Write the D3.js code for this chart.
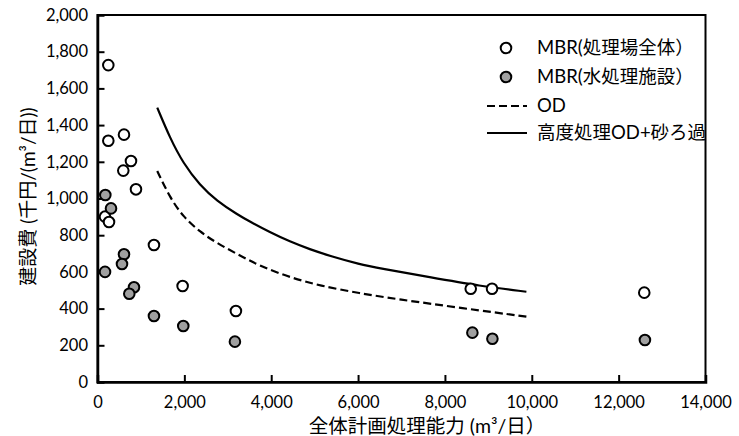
<!DOCTYPE html>
<html>
<head>
<meta charset="utf-8">
<script src="https://cdn.jsdelivr.net/npm/d3@7"></script>
<style>
  body { margin: 0; background: #fff; }
  text { font-family: Lato, "Noto Sans CJK JP", sans-serif; fill: #000; }
</style>
</head>
<body>
<div id="container"></div>
<script>
// MBR(処理場全体) - capacity, cost
let wholeX = [249, 249, 610, 771, 594, 886, 173, 265, 1300, 1960, 3187, 8594, 9085, 12590];
let wholeY = [1727, 1315, 1348, 1204, 1152, 1050, 901, 872, 747, 523, 387, 508, 508, 487];

// MBR(水処理施設)
let waterX = [180, 311, 173, 610, 564, 840, 732, 1300, 1975, 3164, 8632, 9093, 12605];
let waterY = [1019, 946, 600, 696, 643, 516, 481, 360, 305, 220, 269, 236, 229];

// OD curve
let odX = [1376, 1668, 1974, 2359, 2743, 3240, 3739, 4430, 5120, 6040, 6884, 8417, 9876];
let odY = [1150, 1005, 900, 818, 758, 694, 632, 570, 525, 483, 452, 402, 356];

// 高度処理OD+砂ろ過 curve
let advX = [1376, 1668, 1974, 2359, 2743, 3240, 3509, 3969, 4430, 4890, 5350, 6040, 6500, 7651, 8801, 9876];
let advY = [1495, 1330, 1192, 1072, 988, 910, 874, 816, 765, 723, 687, 641, 620, 571, 523, 492];

let xTicks = [0, 2000, 4000, 6000, 8000, 10000, 12000, 14000];
let yTicks = [0, 200, 400, 600, 800, 1000, 1200, 1400, 1600, 1800, 2000];

let legendLabels = ["MBR(処理場全体）", "MBR(水処理施設）", "OD", "高度処理OD+砂ろ過"];

let w = 739, h = 436;
let mLeft = 97.5, mRight = 705.5, mTop = 15, mBottom = 382;

let viz = d3.select("#container")
  .append("svg")
    .attr("width", w)
    .attr("height", h)
;

let x = d3.scaleLinear().domain([0, 14000]).range([mLeft, mRight]);
let y = d3.scaleLinear().domain([0, 2000]).range([mBottom, mTop]);

let fmt = d3.format(",");

// box
viz.append("rect")
  .attr("x", mLeft).attr("y", mTop)
  .attr("width", mRight - mLeft).attr("height", mBottom - mTop)
  .attr("fill", "none").attr("stroke", "#000").attr("stroke-width", 2);

// axes
let yAxis = viz.append("g")
  .attr("transform", "translate(" + mLeft + ",0)")
  .call(d3.axisLeft(y).tickValues(yTicks).tickFormat(fmt).tickSize(-7).tickPadding(9.5));
let xAxis = viz.append("g")
  .attr("transform", "translate(0," + mBottom + ")")
  .call(d3.axisBottom(x).tickValues(xTicks).tickFormat(fmt).tickSize(-7).tickPadding(14.5));

[yAxis, xAxis].forEach(function(a){
  a.select(".domain").attr("stroke-width", 2.5);
  a.selectAll(".tick line").attr("stroke-width", 2);
  a.selectAll(".tick text").attr("font-size", 16.5).attr("font-family", "Lato, sans-serif").attr("fill", "#000");
});
yAxis.selectAll(".tick").filter(d => d === 0 || d === 2000).select("line").remove();
xAxis.selectAll(".tick").filter(d => d === 0 || d === 14000).select("line").remove();

// axis titles
viz.append("text")
  .attr("transform", "translate(35,196.5) rotate(-90)")
  .attr("text-anchor", "middle")
  .attr("font-size", 19)
  .text("建設費 (千円/(m³/日))");

viz.append("text")
  .attr("x", 427).attr("y", 433)
  .attr("text-anchor", "middle")
  .attr("font-size", 19.5)
  .text("全体計画処理能力 (m³/日）");

// curves
let line = d3.line()
  .x(d => x(d[0]))
  .y(d => y(d[1]))
  .curve(d3.curveBasis);

viz.append("path")
  .datum(d3.zip(odX, odY))
  .attr("d", line)
  .attr("fill", "none").attr("stroke", "#000").attr("stroke-width", 2.2)
  .attr("stroke-dasharray", "8,4");

viz.append("path")
  .datum(d3.zip(advX, advY))
  .attr("d", line)
  .attr("fill", "none").attr("stroke", "#000").attr("stroke-width", 2.2);

// points
viz.append("g").selectAll("circle")
  .data(d3.zip(wholeX, wholeY))
  .join("circle")
    .attr("cx", d => x(d[0]))
    .attr("cy", d => y(d[1]))
    .attr("r", 5.3)
    .attr("fill", "#fff").attr("stroke", "#000").attr("stroke-width", 2);

viz.append("g").selectAll("circle")
  .data(d3.zip(waterX, waterY))
  .join("circle")
    .attr("cx", d => x(d[0]))
    .attr("cy", d => y(d[1]))
    .attr("r", 5.3)
    .attr("fill", "#a0a0a0").attr("stroke", "#000").attr("stroke-width", 2);

// legend
let legend = viz.append("g").attr("class", "legend");
let rowY = [48, 77, 106, 133];
legend.append("circle").attr("cx", 506).attr("cy", rowY[0]).attr("r", 5.3)
  .attr("fill", "#fff").attr("stroke", "#000").attr("stroke-width", 2);
legend.append("circle").attr("cx", 506).attr("cy", rowY[1]).attr("r", 5.3)
  .attr("fill", "#a0a0a0").attr("stroke", "#000").attr("stroke-width", 2);
legend.append("line").attr("x1", 487).attr("x2", 527).attr("y1", rowY[2]).attr("y2", rowY[2])
  .attr("stroke", "#000").attr("stroke-width", 2.2).attr("stroke-dasharray", "8,4");
legend.append("line").attr("x1", 487).attr("x2", 527).attr("y1", rowY[3]).attr("y2", rowY[3])
  .attr("stroke", "#000").attr("stroke-width", 2.2);
legend.selectAll("text")
  .data(legendLabels)
  .join("text")
    .attr("x", 537)
    .attr("y", (d, i) => rowY[i])
    .attr("dy", "0.35em")
    .attr("font-size", 18.5)
    .text(d => d);
</script>
</body>
</html>
